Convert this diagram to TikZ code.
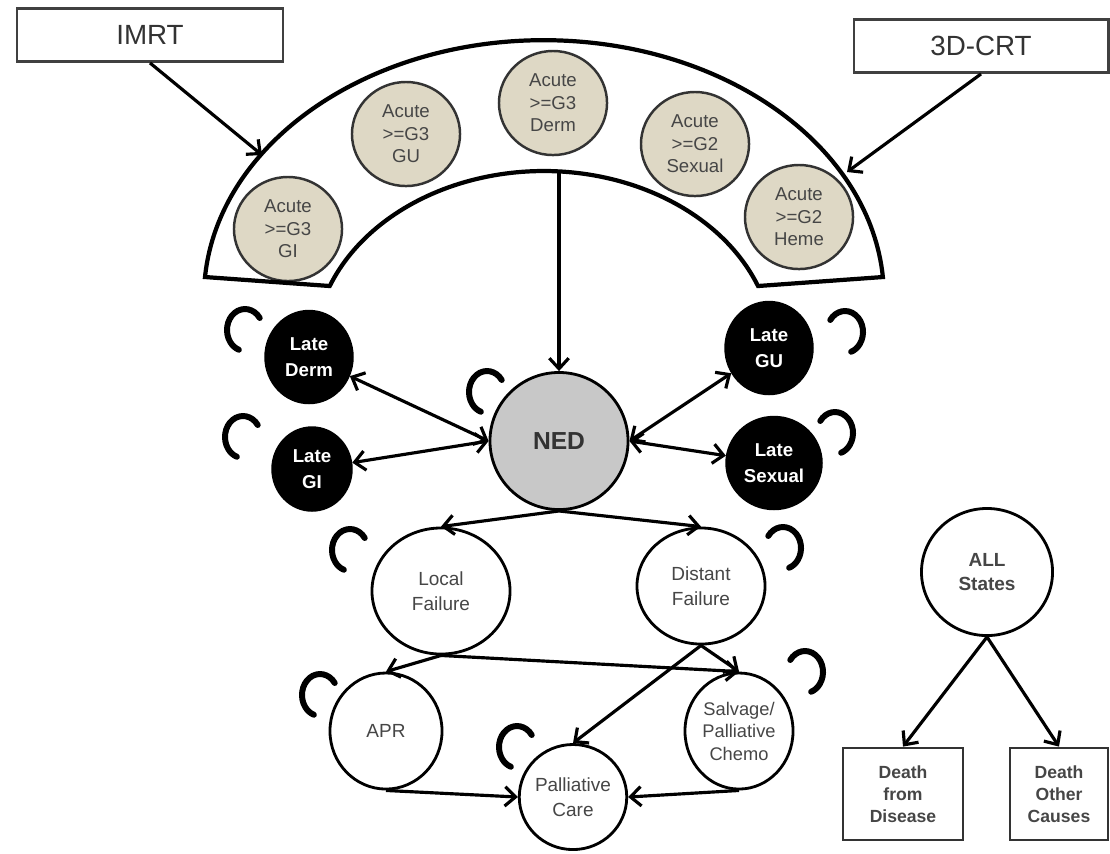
\documentclass[tikz,border=0pt]{standalone}
\usepackage{fontspec}
\setmainfont{Liberation Sans}
\usetikzlibrary{arrows.meta,shapes.geometric}

\definecolor{acutefill}{RGB}{222,216,197}
\definecolor{nedfill}{RGB}{200,200,200}
\definecolor{txtgray}{RGB}{70,70,70}

\begin{document}
\begin{tikzpicture}[x=0.01cm,y=-0.01cm,
    >={Straight Barb[length=3pt,width=5.5pt]},
    conn/.style={line width=0.9pt},
    txtbox/.style={draw=black!75,line width=0.8pt,minimum width=2.66cm,
        minimum height=0.53cm,font=\fontsize{7.9}{9.5}\selectfont,text=black!80},
    acute/.style={ellipse,draw=black!80,line width=0.7pt,fill=acutefill,
        minimum width=1.08cm,minimum height=1.04cm,inner sep=0pt,align=center,
        text=txtgray,font=\fontsize{5.3}{6.4}\selectfont},
    late/.style={ellipse,draw,fill=black,minimum width=0.88cm,minimum height=0.93cm,
        inner sep=0pt,align=center,text=white,font=\bfseries\fontsize{5.3}{7.5}\selectfont},
    state/.style={ellipse,draw,line width=0.8pt,fill=white,inner sep=0pt,
        align=center,text=txtgray,font=\fontsize{5.4}{7}\selectfont},
    deathbox/.style={draw=black!80,line width=0.8pt,minimum width=1.2cm,
        minimum height=0.92cm,align=center,text=txtgray,
        font=\bfseries\fontsize{5}{6.2}\selectfont},
    selfloop/.style={line width=1.7pt,line cap=round}]

    \useasboundingbox (0,0) rectangle (1110,853);

    % treatment boxes
    \node[txtbox] (imrt) at (150,35) {IMRT};
    \node[txtbox,minimum width=2.54cm] (crt) at (981,46) {3D-CRT};

    % acute toxicities
    \node[acute] (agi) at (288,229) {Acute\\>=G3\\GI};
    \node[acute] (agu) at (406,134) {Acute\\>=G3\\GU};
    \node[acute] (aderm) at (553,103) {Acute\\>=G3\\Derm};
    \node[acute] (asex) at (695,144) {Acute\\>=G2\\Sexual};
    \node[acute] (aheme) at (799,217) {Acute\\>=G2\\Heme};

    % the band round them
    \draw [line width=1.2pt] (205,277)
        arc[start angle=-175.5,end angle=-4.5,x radius=340,y radius=257]
        -- (758,286)
        arc[start angle=-21.4,end angle=-158.6,x radius=230,y radius=181]
        -- cycle;
    \coordinate (imrtin) at (262,155);
    \coordinate (crtin) at (847,172);
    \coordinate (bandin) at (559,171);

    % NED and late toxicities
    \node[state,fill=nedfill,minimum width=1.38cm,minimum height=1.37cm,
        font=\bfseries\fontsize{7}{8}\selectfont,text=black!80] (ned) at (559,441) {NED};
    \node[late] (lderm) at (309,357) {Late\\Derm};
    \node[late,minimum width=0.8cm,minimum height=0.84cm] (lgi) at (312,469) {Late\\GI};
    \node[late] (lgu) at (769,348) {Late\\GU};
    \node[late,minimum width=0.96cm] (lsex) at (774,463) {Late\\Sexual};

    % failure and treatment states
    \node[state,minimum width=1.38cm,minimum height=1.26cm] (local) at (441,591) {Local\\Failure};
    \node[state,minimum width=1.28cm,minimum height=1.16cm] (distant) at (701,586) {Distant\\Failure};
    \node[state,minimum width=1.12cm,minimum height=1.16cm] (apr) at (386,731) {APR};
    \node[state,minimum width=1.08cm,minimum height=1.16cm,
        font=\fontsize{5.2}{6.4}\selectfont] (salv) at (739,731) {Salvage/\\Palliative\\Chemo};
    \node[state,minimum width=1.07cm,minimum height=1.05cm] (pall) at (573,797) {Palliative\\Care};

    % death states
    \node[state,minimum width=1.31cm,minimum height=1.27cm,
        font=\bfseries\fontsize{5.4}{7}\selectfont] (all) at (987,572) {ALL\\States};
    \node[deathbox] (dd) at (903,794) {Death\\from\\Disease};
    \node[deathbox,minimum width=0.98cm] (do) at (1059,794) {Death\\Other\\Causes};

    \draw[conn,->] (imrt.south) -- (imrtin);
    \draw[conn,->] (crt.south) -- (crtin);
    \draw[conn,->] (bandin) -- (ned.north);

    \draw[conn,<->] (lderm) -- (ned.west);
    \draw[conn,<->] (lgi) -- (ned.west);
    \draw[conn,<->] (lgu) -- (ned.east);
    \draw[conn,<->] (lsex) -- (ned.east);

    \draw[conn,->] (ned.south) -- (local.north);
    \draw[conn,->] (ned.south) -- (distant.north);
    \draw[conn,->] (local.south) -- (apr.north);
    \draw[conn,->] (local.south) -- (salv.north);
    \draw[conn,->] (distant.south) -- (salv.north);
    \draw[conn,->] (distant.south) -- (pall.north);
    \draw[conn,->] (apr.south) -- (pall.west);
    \draw[conn,->] (salv.south) -- (pall.east);

    \draw[conn,->] (all.south) -- (dd.north);
    \draw[conn,->] (all.south) -- (do.north);

    % self transitions
    \foreach \cx/\cy in {245/330, 243/437, 487/392, 350/550, 320/695, 517/747}
        \draw[selfloop] ([shift={(-35:18 and 21)}]\cx,\cy)
            arc[start angle=-35,end angle=-250,x radius=18,y radius=21];
    \foreach \cx/\cy in {845/332, 835/433, 783/548, 805/672}
        \draw[selfloop] ([shift={(-145:18 and 21)}]\cx,\cy)
            arc[start angle=-145,end angle=70,x radius=18,y radius=21];
\end{tikzpicture}
\end{document}
